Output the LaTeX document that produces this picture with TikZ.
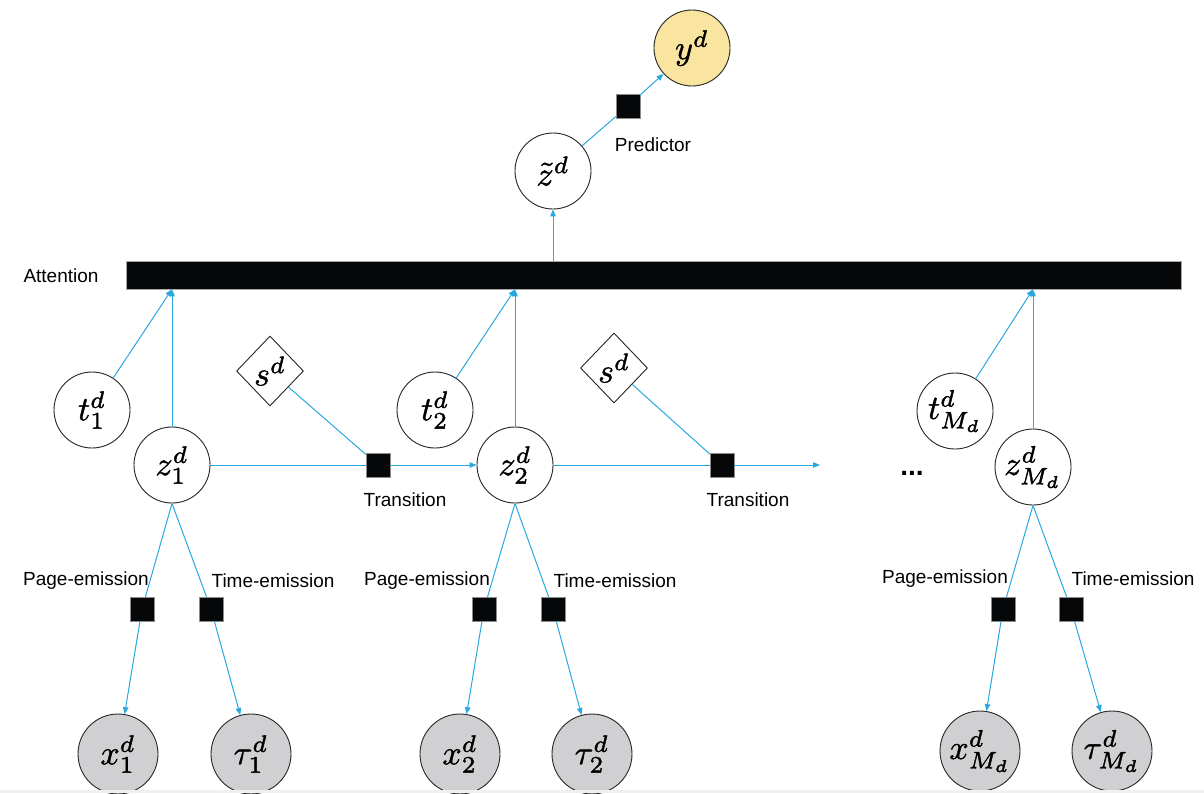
\documentclass[tikz,border=0pt]{standalone}
\usepackage[no-math]{fontspec}
\usepackage{graphicx}
\setmainfont{Liberation Sans}
\usetikzlibrary{shapes.geometric,arrows.meta}

\definecolor{edgeblue}{RGB}{41,168,224}
\definecolor{obsgray}{RGB}{208,208,210}
\definecolor{predyellow}{RGB}{250,229,160}
\definecolor{barblack}{RGB}{6,7,9}

% variable symbols: 10pt math scaled up, glyphs slightly emboldened
\newcommand{\mlab}[1]{\scalebox{3.4}{\special{pdf:literal direct 2 Tr 0.12 w}$#1$\special{pdf:literal direct 0 Tr}}}
\newcommand{\labelsz}{\fontsize{19}{22}\selectfont}

\tikzset{
  var/.style={circle, draw=black!85, line width=0.9pt, fill=white,
              minimum size=76pt, inner sep=0pt},
  obs/.style={var, fill=obsgray, minimum size=80pt},
  target/.style={var, fill=predyellow},
  param/.style={diamond, draw=black!85, line width=0.9pt, fill=white,
                minimum width=67pt, minimum height=70pt, inner sep=0pt},
  factor/.style={rectangle, fill=barblack, draw=black!45, line width=0.4pt,
                 minimum size=24pt, inner sep=0pt},
  attbar/.style={rectangle, fill=barblack, draw=black!35, line width=0.5pt,
                 minimum width=1055pt, minimum height=28pt, inner sep=0pt},
  lbl/.style={font=\labelsz, inner sep=0pt},
  link/.style={draw=edgeblue, line width=1pt},
  arc/.style={link, -{Triangle[length=7pt,width=5.5pt]}},
}

\begin{document}
\begin{tikzpicture}[x=1pt, y=-1pt]
\useasboundingbox (0,0) rectangle (1204,793);

% prediction head
\node[target] (y) at (692,48) {\mlab{y^d}};
\node[var] (zt) at (553,171) {\mlab{\tilde{z}^d}};
\node[factor] (pred) at (628,106) {};
\node[lbl] (predlbl) at (653,145) {Predictor};

% attention layer
\node[attbar] (att) at (653.5,275) {};
\node[lbl] (attlbl) at (61,276) {Attention};

% step 1
\node[var] (t1) at (92,410) {\mlab{t_1^d}};
\node[var] (z1) at (172,465) {\mlab{z_1^d}};
\node[param] (s1) at (270,371) {\mlab{s^d}};
\node[factor] (tr1) at (378,465) {};
\node[lbl] (tr1lbl) at (405,500) {Transition};
\node[factor] (pe1) at (142,609) {};
\node[factor] (te1) at (211,609) {};
\node[lbl] (pe1lbl) at (86,581) {Page-emission};
\node[lbl] (te1lbl) at (273,581) {Time-emission};
\node[obs] (x1) at (118,754) {\mlab{x_1^d}};
\node[obs] (tau1) at (251,754) {\mlab{\tau_1^d}};

% step 2
\node[var] (t2) at (435,410) {\mlab{t_2^d}};
\node[var] (z2) at (515,465) {\mlab{z_2^d}};
\node[param] (s2) at (614,368) {\mlab{s^d}};
\node[factor] (tr2) at (722,465) {};
\node[lbl] (tr2lbl) at (748,500) {Transition};
\coordinate (next) at (820,465);
\node[factor] (pe2) at (484,609) {};
\node[factor] (te2) at (553,609) {};
\node[lbl] (pe2lbl) at (427,581) {Page-emission};
\node[lbl] (te2lbl) at (615,581) {Time-emission};
\node[obs] (x2) at (460,754) {\mlab{x_2^d}};
\node[obs] (tau2) at (592,754) {\mlab{\tau_2^d}};

% ellipsis
\node[font=\fontsize{28}{30}\selectfont\bfseries, inner sep=0pt] (dots) at (912,473) {...};

% last step
\node[var] (tM) at (955,411) {\mlab{t_{M_d}^d}};
\node[var] (zM) at (1033,467) {\mlab{z_{M_d}^d}};
\node[factor] (peM) at (1003,609) {};
\node[factor] (teM) at (1071,609) {};
\node[lbl] (peMlbl) at (945,579) {Page-emission};
\node[lbl] (teMlbl) at (1133,579) {Time-emission};
\node[obs] (xM) at (980,751) {\mlab{x_{M_d}^d}};
\node[obs] (tauM) at (1112,751) {\mlab{\tau_{M_d}^d}};

% connectors: prediction
\draw[arc] (att.north -| zt) -- (zt);
\draw[link] (zt) -- (pred);
\draw[arc] (pred) -- (y);

% connectors: into the attention layer
\draw[arc] (z1) -- (z1 |- att.south);
\draw[arc] (t1) -- (z1 |- att.south);
\draw[arc] (z2) -- (z2 |- att.south);
\draw[arc] (t2) -- (z2 |- att.south);
\draw[arc] (zM) -- (zM |- att.south);
\draw[arc] (tM) -- (zM |- att.south);

% connectors: transitions
\draw[link] (z1) -- (tr1);
\draw[link] (s1) -- (tr1);
\draw[arc] (tr1) -- (z2);
\draw[link] (z2) -- (tr2);
\draw[link] (s2) -- (tr2);
\draw[arc] (tr2) -- (next);

% connectors: emissions, both leaving from the bottom of each state
\draw[link] (z1.south) -- (pe1);  \draw[arc] (pe1) -- (x1);
\draw[link] (z1.south) -- (te1);  \draw[arc] (te1) -- (tau1);
\draw[link] (z2.south) -- (pe2);  \draw[arc] (pe2) -- (x2);
\draw[link] (z2.south) -- (te2);  \draw[arc] (te2) -- (tau2);
\draw[link] (zM.south) -- (peM);  \draw[arc] (peM) -- (xM);
\draw[link] (zM.south) -- (teM);  \draw[arc] (teM) -- (tauM);

% page edge along the bottom
\fill[black!6] (0,789.5) rectangle (1204,793);
\end{tikzpicture}
\end{document}
